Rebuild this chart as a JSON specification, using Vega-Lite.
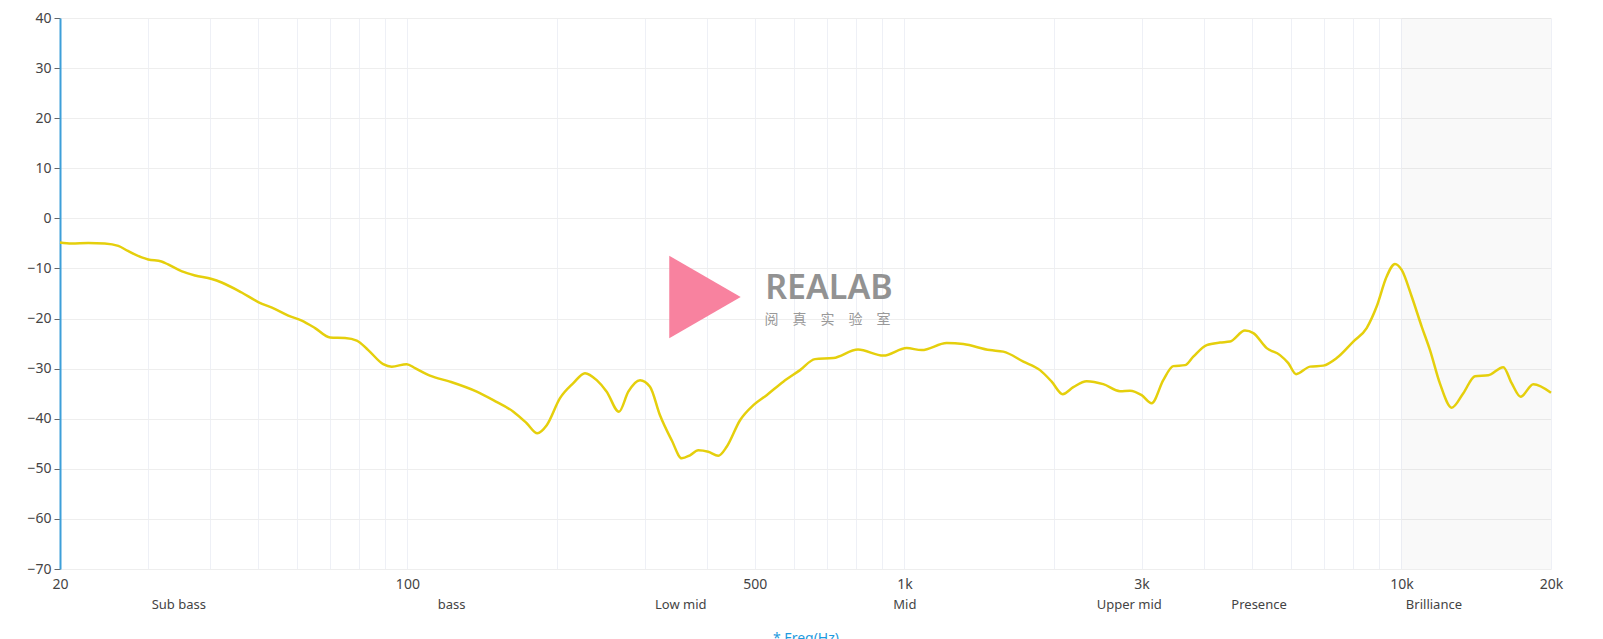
{
  "$schema": "https://vega.github.io/schema/vega-lite/v6.json",
  "autosize": {"type": "none"},
  "padding": {"left": 60, "top": 18, "right": 52, "bottom": 70},
  "width": 1491,
  "height": 551,
  "background": "white",
  "config": {
    "font": "Noto Sans",
    "view": {"stroke": null}
  },
  "datasets": {
    "curve": [
      {"freq": 20, "db": -4.8}, {"freq": 21.1, "db": -5.0}, {"freq": 22.8, "db": -4.9}, {"freq": 24.6, "db": -5.0},
      {"freq": 26.2, "db": -5.5}, {"freq": 27.4, "db": -6.5}, {"freq": 29.2, "db": -7.8}, {"freq": 30.1, "db": -8.2},
      {"freq": 32.0, "db": -8.6}, {"freq": 33.0, "db": -9.2}, {"freq": 35.2, "db": -10.6}, {"freq": 37.4, "db": -11.4},
      {"freq": 40.4, "db": -12.1}, {"freq": 42.3, "db": -12.8}, {"freq": 46.4, "db": -14.8}, {"freq": 50.1, "db": -16.7},
      {"freq": 54.2, "db": -18.1}, {"freq": 57.6, "db": -19.4}, {"freq": 61.3, "db": -20.4}, {"freq": 65.2, "db": -21.9},
      {"freq": 69.9, "db": -23.8}, {"freq": 74.9, "db": -23.9}, {"freq": 79.1, "db": -24.4}, {"freq": 83.4, "db": -26.3},
      {"freq": 89.4, "db": -29.1}, {"freq": 93.0, "db": -29.6}, {"freq": 99.7, "db": -29.1}, {"freq": 103.6, "db": -29.9},
      {"freq": 111.0, "db": -31.4}, {"freq": 121.8, "db": -32.6}, {"freq": 137.9, "db": -34.6}, {"freq": 148.9, "db": -36.3},
      {"freq": 163.4, "db": -38.6}, {"freq": 173.8, "db": -40.9}, {"freq": 182.6, "db": -42.9}, {"freq": 190.7, "db": -41.3},
      {"freq": 202.8, "db": -35.9}, {"freq": 215.7, "db": -32.9}, {"freq": 227.7, "db": -30.9}, {"freq": 240.4, "db": -32.3},
      {"freq": 251.8, "db": -34.6}, {"freq": 266.5, "db": -38.6}, {"freq": 278.3, "db": -34.6}, {"freq": 293.8, "db": -32.3},
      {"freq": 307.7, "db": -33.6}, {"freq": 322.3, "db": -39.3}, {"freq": 340.3, "db": -44.3}, {"freq": 356.4, "db": -47.9},
      {"freq": 370.4, "db": -47.3}, {"freq": 384.9, "db": -46.3}, {"freq": 403.1, "db": -46.6}, {"freq": 422.2, "db": -47.4},
      {"freq": 439.0, "db": -45.6}, {"freq": 467.0, "db": -40.3}, {"freq": 496.7, "db": -37.3}, {"freq": 528.3, "db": -35.3},
      {"freq": 570.6, "db": -32.6}, {"freq": 616.6, "db": -30.3}, {"freq": 660.8, "db": -28.1}, {"freq": 719.4, "db": -27.9},
      {"freq": 806.7, "db": -26.2}, {"freq": 907.2, "db": -27.4}, {"freq": 1010.6, "db": -25.9}, {"freq": 1083.5, "db": -26.3},
      {"freq": 1216.6, "db": -24.9}, {"freq": 1314.0, "db": -25.1}, {"freq": 1486.5, "db": -26.3}, {"freq": 1581.4, "db": -26.6},
      {"freq": 1735.6, "db": -28.6}, {"freq": 1874.5, "db": -30.3}, {"freq": 1978.7, "db": -32.6}, {"freq": 2082.2, "db": -35.1},
      {"freq": 2187.1, "db": -33.7}, {"freq": 2327.2, "db": -32.5}, {"freq": 2513.3, "db": -33.1}, {"freq": 2715.2, "db": -34.5},
      {"freq": 2843.9, "db": -34.4}, {"freq": 3002.3, "db": -35.3}, {"freq": 3144.6, "db": -36.9}, {"freq": 3318.1, "db": -32.3},
      {"freq": 3475.4, "db": -29.5}, {"freq": 3669.2, "db": -29.3}, {"freq": 3813.4, "db": -27.6}, {"freq": 4057.7, "db": -25.3},
      {"freq": 4315.4, "db": -24.8}, {"freq": 4520, "db": -24.6}, {"freq": 4845, "db": -22.4}, {"freq": 5036, "db": -22.9},
      {"freq": 5358, "db": -25.9}, {"freq": 5698, "db": -27.3}, {"freq": 5922, "db": -28.9}, {"freq": 6138, "db": -31.1},
      {"freq": 6548, "db": -29.6}, {"freq": 6965, "db": -29.4}, {"freq": 7410, "db": -27.9}, {"freq": 8003, "db": -24.6},
      {"freq": 8514, "db": -21.9}, {"freq": 8917, "db": -17.6}, {"freq": 9341, "db": -11.6}, {"freq": 9708, "db": -9.1},
      {"freq": 10014, "db": -10.3}, {"freq": 10489, "db": -15.6}, {"freq": 10986, "db": -21.6}, {"freq": 11417, "db": -26.3},
      {"freq": 11958, "db": -33.0}, {"freq": 12625, "db": -37.8}, {"freq": 13323, "db": -34.9}, {"freq": 14064, "db": -31.5},
      {"freq": 14957, "db": -31.3}, {"freq": 16032, "db": -29.7}, {"freq": 16669, "db": -32.9}, {"freq": 17380, "db": -35.6},
      {"freq": 18426, "db": -33.1}, {"freq": 20000, "db": -34.8}
    ],
    "shade": [{"from": 10000, "to": 20000, "top": 40, "bottom": -70}],
    "logo": [{"freq": 397, "db": -15.7}],
    "brand": [
      {"freq": 705, "db": -14.2, "text": "REALAB", "kind": "en"},
      {"freq": 700, "db": -20.2, "text": "阅　真　实　验　室", "kind": "zh"}
    ]
  },
  "resolve": {"axis": {"x": "independent"}},
  "layer": [
    {
      "data": {"name": "shade"},
      "mark": {"type": "rect", "color": "#000000", "opacity": 0.022},
      "encoding": {
        "x": {
          "field": "from",
          "type": "quantitative",
          "scale": {"type": "log", "domain": [20, 20000], "nice": false},
          "axis": {
            "orient": "bottom",
            "title": "* Freq(Hz)",
            "titleColor": "#1e9be0",
            "titleFontSize": 14,
            "titleFontWeight": "normal",
            "titlePadding": 40,
            "values": [20, 30, 40, 50, 60, 70, 80, 90, 100, 200, 300, 400, 500, 600, 700, 800, 900, 1000, 2000, 3000, 4000, 5000, 6000, 7000, 8000, 9000, 10000, 20000],
            "labelExpr": "datum.value == 20 ? '20' : datum.value == 100 ? '100' : datum.value == 500 ? '500' : datum.value == 1000 ? '1k' : datum.value == 3000 ? '3k' : datum.value == 10000 ? '10k' : datum.value == 20000 ? '20k' : ''",
            "labelColor": "#444",
            "labelFontSize": 14,
            "labelPadding": 8,
            "labelFlush": false,
            "labelOverlap": false,
            "ticks": false,
            "domain": false,
            "grid": true,
            "gridColor": "#eef0f6",
            "gridWidth": 1
          }
        },
        "x2": {"field": "to"},
        "y": {
          "field": "top",
          "type": "quantitative",
          "scale": {"domain": [-70, 40], "nice": false},
          "axis": {
            "title": null,
            "values": [-70, -60, -50, -40, -30, -20, -10, 0, 10, 20, 30, 40],
            "labelColor": "#444",
            "labelFontSize": 14,
            "labelPadding": 3,
            "tickColor": "#666",
            "tickSize": 6,
            "domainColor": "#3d9fd9",
            "domainWidth": 2,
            "grid": true,
            "gridColor": "#eeeeee"
          }
        },
        "y2": {"field": "bottom"}
      }
    },
    {
      "data": {"name": "logo"},
      "mark": {"type": "point", "shape": "triangle-right", "filled": true, "size": 6800, "color": "#f8829f", "opacity": 1},
      "encoding": {
        "x": {"field": "freq", "type": "quantitative", "axis": {
          "orient": "bottom",
          "title": null,
          "values": [34.6, 122.5, 354, 1000, 2828, 5160, 11600],
          "labelExpr": "datum.value < 50 ? 'Sub bass' : datum.value < 200 ? 'bass' : datum.value < 500 ? 'Low mid' : datum.value < 2000 ? 'Mid' : datum.value < 4000 ? 'Upper mid' : datum.value < 8000 ? 'Presence' : 'Brilliance'",
          "labelColor": "#444",
          "labelFontSize": 13,
          "labelPadding": 29,
          "labelFlush": false,
          "labelOverlap": false,
          "ticks": false,
          "domain": false,
          "grid": false
        }},
        "y": {"field": "db", "type": "quantitative"}
      }
    },
    {
      "data": {"name": "brand"},
      "transform": [{"filter": "datum.kind == 'en'"}],
      "mark": {"type": "text", "fontSize": 34, "fontWeight": 600, "color": "#929292", "baseline": "middle", "align": "center"},
      "encoding": {
        "x": {"field": "freq", "type": "quantitative", "axis": null},
        "y": {"field": "db", "type": "quantitative"},
        "text": {"field": "text"}
      }
    },
    {
      "data": {"name": "brand"},
      "transform": [{"filter": "datum.kind == 'zh'"}],
      "mark": {"type": "text", "fontSize": 14, "font": "Noto Sans CJK SC", "color": "#999999", "baseline": "middle", "align": "center"},
      "encoding": {
        "x": {"field": "freq", "type": "quantitative", "axis": null},
        "y": {"field": "db", "type": "quantitative"},
        "text": {"field": "text"}
      }
    },
    {
      "mark": {"type": "rule", "color": "#3d9fd9", "strokeWidth": 1.5},
      "encoding": {
        "y": {"datum": 0},
        "x": {"datum": 20, "axis": null},
        "x2": {"datum": 20000}
      }
    },
    {
      "data": {"name": "curve"},
      "mark": {"type": "line", "color": "#e5cf0c", "strokeWidth": 2.5, "interpolate": "monotone"},
      "encoding": {
        "x": {"field": "freq", "type": "quantitative", "axis": null},
        "y": {"field": "db", "type": "quantitative"}
      }
    }
  ]
}
